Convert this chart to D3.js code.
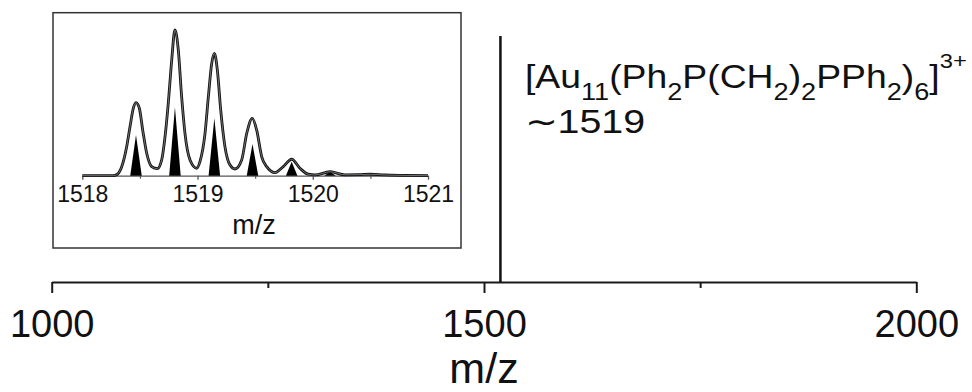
<!DOCTYPE html>
<html>
<head>
<meta charset="utf-8">
<script src="https://cdn.jsdelivr.net/npm/d3@7"></script>
<style>
  body { margin: 0; background: #fff; }
  svg text { font-family: Arial, "Liberation Sans", sans-serif; fill: #111; }
</style>
</head>
<body>
<div id="grafico"></div>
<script>
/////////// DATOS /////////
// espectro completo: un solo pico
var mainMz = [1519];
var mainInt = [100];
var mainTicks = [1000, 1500, 2000];
var mainMinorTicks = [1250, 1750];

// perfil del recuadro (m/z, intensidad relativa)
var profMz = [1518.00, 1518.27, 1518.30, 1518.342, 1518.385, 1518.414, 1518.443, 1518.466, 1518.495, 1518.524,
              1518.559, 1518.602, 1518.651, 1518.689, 1518.718, 1518.746, 1518.776, 1518.804, 1518.833, 1518.862,
              1518.891, 1518.935, 1518.993, 1519.021, 1519.065, 1519.094, 1519.123, 1519.146, 1519.172, 1519.201,
              1519.238, 1519.282, 1519.325, 1519.383, 1519.427, 1519.475, 1519.513, 1519.557, 1519.600, 1519.672,
              1519.744, 1519.817, 1519.889, 1519.961, 1520.02, 1520.15, 1520.28, 1520.40, 1520.50, 1520.62, 1520.80, 1521.00];
var profInt = [0, 0, 0.8, 6.2, 19.9, 33.6, 46.3, 50.1, 46.3, 31.4,
               15.4, 6.2, 4.8, 10.8, 26.8, 49.7, 79.4, 100, 86.3, 54.2,
               29.1, 10.8, 5.1, 9.6, 29.1, 54.2, 77.1, 84, 72.5, 45.1,
               19.9, 7.3, 4.6, 10.8, 29.1, 39.4, 31.4, 13, 6.2, 2.1,
               6.2, 11.3, 5.1, 1, 0.5, 2.7, 0.6, 0.7, 1, 0.5, 0.2, 0];

// barras de la distribución isotópica teórica
var stickMz = [1518.466, 1518.804, 1519.146, 1519.477, 1519.817, 1520.15];
var stickInt = [27.9, 46.9, 39.4, 21.8, 9.6, 2.7];

var insetTicks = [1518, 1519, 1520, 1521];
var insetMinorTicks = [1518.5, 1519.5, 1520.5];

/////////// SVG /////////
var W = 972, H = 392;
var svg = d3.select("#grafico").append("svg")
  .attr("width", W)
  .attr("height", H);

/////////// ESPECTRO PRINCIPAL /////////
var x = d3.scaleLinear().domain([1000, 2000]).range([51.7, 916.3]);
var y = d3.scaleLinear().domain([0, 100]).range([282, 36]);

// eje X: ticks largos con etiqueta
var ejeX = svg.append("g")
  .attr("transform", "translate(0," + y(0) + ")")
  .call(d3.axisBottom(x).tickValues(mainTicks).tickSize(11).tickSizeOuter(0).tickFormat(d3.format("d")));
ejeX.select(".domain").attr("stroke", "#1a1a1a").attr("stroke-width", 2);
ejeX.selectAll(".tick line").attr("stroke", "#1a1a1a").attr("stroke-width", 2);
ejeX.selectAll("text")
  .attr("y", 54.7).attr("dy", 0)
  .attr("font-size", "38px")
  .attr("fill", "#111");

// ticks cortos
var ejeXm = svg.append("g")
  .attr("transform", "translate(0," + y(0) + ")")
  .call(d3.axisBottom(x).tickValues(mainMinorTicks).tickSize(6).tickFormat(""));
ejeXm.select(".domain").remove();
ejeXm.selectAll(".tick line").attr("stroke", "#1a1a1a").attr("stroke-width", 2);

// título eje X
svg.append("text")
  .attr("x", 484).attr("y", 383.3)
  .attr("text-anchor", "middle")
  .attr("font-size", "43px")
  .text("m/z");

// pico
svg.append("g").selectAll("line")
  .data(mainMz)
  .enter().append("line")
  .attr("x1", function(d) { return x(d); })
  .attr("x2", function(d) { return x(d); })
  .attr("y1", y(0))
  .attr("y2", function(d, i) { return y(mainInt[i]); })
  .attr("stroke", "#111")
  .attr("stroke-width", 2.5);

// etiqueta del pico
var lab = svg.append("text")
  .attr("x", 525).attr("y", 88.3)
  .attr("font-size", "33px");
lab.append("tspan").text("[Au");
lab.append("tspan").attr("font-size", "24px").attr("dy", 11.7).text("11");
lab.append("tspan").attr("dy", -11.7).text("(Ph");
lab.append("tspan").attr("font-size", "24px").attr("dy", 11.7).text("2");
lab.append("tspan").attr("dy", -11.7).text("P(CH");
lab.append("tspan").attr("font-size", "24px").attr("dy", 11.7).text("2");
lab.append("tspan").attr("dy", -11.7).text(")");
lab.append("tspan").attr("font-size", "24px").attr("dy", 11.7).text("2");
lab.append("tspan").attr("dy", -11.7).text("PPh");
lab.append("tspan").attr("font-size", "24px").attr("dy", 11.7).text("2");
lab.append("tspan").attr("dy", -11.7).text(")");
lab.append("tspan").attr("font-size", "24px").attr("dy", 11.7).text("6");
lab.append("tspan").attr("dy", -11.7).text("]");
lab.append("tspan").attr("font-size", "21px").attr("dy", -20).text("3+");

var lab2 = svg.append("text")
  .attr("x", 525).attr("y", 133.3)
  .attr("font-size", "33px")
  .text("\u223C1519");

/////////// RECUADRO /////////
svg.append("rect")
  .attr("x", 53).attr("y", 12.7)
  .attr("width", 461 - 53).attr("height", 248 - 12.7)
  .attr("fill", "none")
  .attr("stroke", "#333")
  .attr("stroke-width", 1.5);

var xi = d3.scaleLinear().domain([1518, 1521]).range([82.3, 428]);
var yi = d3.scaleLinear().domain([0, 100]).range([175.7, 30]);

// eje del recuadro
var ejeI = svg.append("g")
  .attr("transform", "translate(0," + yi(0) + ")")
  .call(d3.axisBottom(xi).tickValues(insetTicks).tickSize(4).tickSizeOuter(0).tickFormat(d3.format("d")));
ejeI.select(".domain").attr("stroke", "#555").attr("stroke-width", 1.3);
ejeI.selectAll(".tick line").attr("stroke", "#555").attr("stroke-width", 1.3);
ejeI.selectAll("text")
  .attr("y", 26.5).attr("dy", 0)
  .attr("font-size", "23px")
  .attr("fill", "#111");

var ejeIm = svg.append("g")
  .attr("transform", "translate(0," + yi(0) + ")")
  .call(d3.axisBottom(xi).tickValues(insetMinorTicks).tickSize(3).tickFormat(""));
ejeIm.select(".domain").remove();
ejeIm.selectAll(".tick line").attr("stroke", "#555").attr("stroke-width", 1.2);

svg.append("text")
  .attr("x", 254).attr("y", 234)
  .attr("text-anchor", "middle")
  .attr("font-size", "27px")
  .text("m/z");

// barras (triángulos negros)
var hw = 0.05;
svg.append("g").selectAll("path")
  .data(stickMz)
  .enter().append("path")
  .attr("d", function(d, i) {
    return "M" + xi(d - hw) + "," + yi(0) +
           "L" + xi(d) + "," + yi(stickInt[i]) +
           "L" + xi(d + hw) + "," + yi(0) + "Z";
  })
  .attr("fill", "#000");

// perfil
var profData = profMz.map(function(m, i) { return [m, profInt[i]]; });
var linea = d3.line()
  .x(function(d) { return xi(d[0]); })
  .y(function(d) { return yi(d[1]); })
  .curve(d3.curveMonotoneX);

svg.append("path")
  .datum(profData)
  .attr("fill", "none")
  .attr("stroke", "#111")
  .attr("stroke-width", 2.8)
  .attr("d", linea);
svg.append("path")
  .datum(profData)
  .attr("fill", "none")
  .attr("stroke", "#8a8a8a")
  .attr("stroke-width", 0.8)
  .attr("d", linea);

// ajustar anchura de las etiquetas al original
function ajustar(sel, x0, ancho) {
  var w = sel.node().getComputedTextLength();
  var k = ancho / w;
  sel.attr("transform", "translate(" + x0 + ",0) scale(" + k + ",1) translate(" + (-x0) + ",0)");
}
ajustar(lab, 525, 442);
ajustar(lab2, 525, 121);
</script>
</body>
</html>
